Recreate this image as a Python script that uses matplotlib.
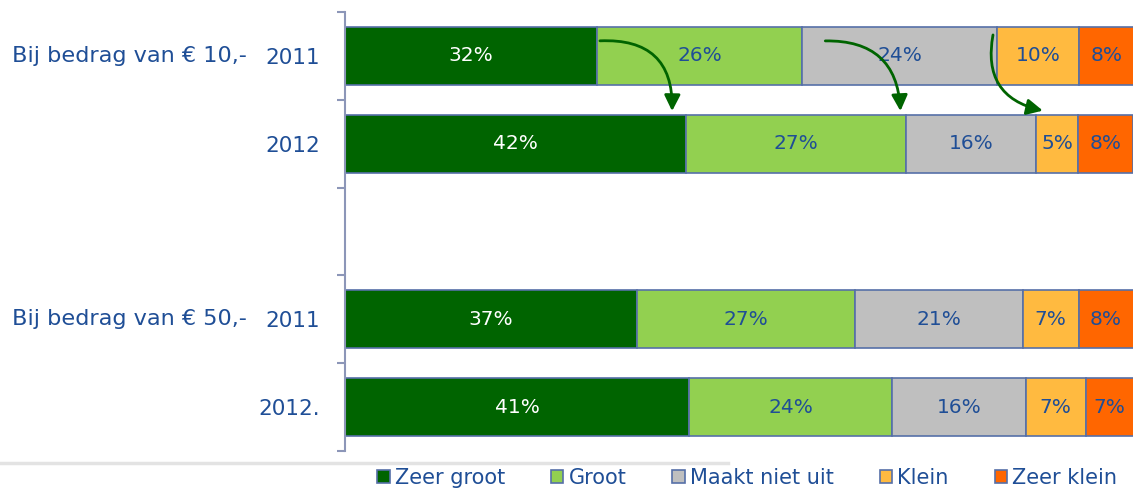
import matplotlib.pyplot as plt
from matplotlib.patches import FancyArrowPatch, Patch
from matplotlib.lines import Line2D
import numpy as np

# rows: EUR 10 (2011, 2012), EUR 50 (2011, 2012)
years = ['2011', '2012', '2011', '2012.']
groups = ['Bij bedrag van € 10,-', 'Bij bedrag van € 50,-']
rows = [0, 1, 3, 4]

categories = ['Zeer groot', 'Groot', 'Maakt niet uit', 'Klein', 'Zeer klein']
colors = ['#006400', '#92D050', '#BFBFBF', '#FFBA40', '#FF6600']

# bar widths as drawn
zeer_groot = [32.0, 43.3, 37.0, 43.7]
groot = [26.0, 27.9, 27.7, 25.7]
maakt_niet_uit = [24.8, 16.5, 21.3, 17.0]
klein = [10.4, 5.3, 7.1, 7.6]
zeer_klein = [6.9, 7.0, 7.0, 6.1]

# printed percentages
zeer_groot_lbl = [32, 42, 37, 41]
groot_lbl = [26, 27, 27, 24]
maakt_niet_uit_lbl = [24, 16, 21, 16]
klein_lbl = [10, 5, 7, 7]
zeer_klein_lbl = [8, 8, 8, 7]

series = [zeer_groot, groot, maakt_niet_uit, klein, zeer_klein]
labels = [zeer_groot_lbl, groot_lbl, maakt_niet_uit_lbl, klein_lbl, zeer_klein_lbl]

text_blue = '#1F4E96'
edge_blue = '#5670A8'
font = 'DejaVu Sans'

fig = plt.figure(figsize=(11.33, 4.9), dpi=100)
ax = fig.add_axes([345 / 1133, 1 - 451 / 490, 1 - 345 / 1133, (451 - 12) / 490])

left = np.zeros(len(rows))
for vals, lbls, col in zip(series, labels, colors):
    bars = ax.barh(rows, vals, left=left, height=0.66, color=col,
                   edgecolor=edge_blue, linewidth=1.2)
    tc = 'white' if col == '#006400' else text_blue
    ax.bar_label(bars, labels=[f'{v}%' for v in lbls], label_type='center',
                 color=tc, fontsize=14.5, family=font)
    left = left + np.array(vals)

ax.set_xlim(0, 100)
ax.set_ylim(4.5, -0.5)
ax.set_xticks([])
for s in ['top', 'right', 'bottom']:
    ax.spines[s].set_visible(False)
ax.spines['left'].set_color('#8C96B8')
ax.spines['left'].set_linewidth(1.5)

ax.set_yticks(rows, years, color=text_blue, fontsize=15.5, family=font)
ax.tick_params(axis='y', which='major', length=0, pad=18)
ax.set_yticks(np.arange(-0.5, 5.0, 1.0), minor=True)
ax.tick_params(axis='y', which='minor', length=6, width=1.5, color='#8C96B8')

for g, r in zip(groups, [0, 3]):
    ax.text(-(345 - 247) / 788 * 100, r, g, ha='right', va='center',
            color=text_blue, fontsize=16.1, family=font, clip_on=False)

# arrows from 2011 to 2012 (EUR 10)
cum0 = np.cumsum([s[0] for s in series])
cum1 = np.cumsum([s[1] for s in series])
arrows = [
    ((cum0[0], -0.17), (cum1[0] - 1.8, 0.66), -0.55),
    ((cum0[1] + 2.6, -0.17), (cum1[1] - 0.7, 0.66), -0.5),
    ((cum0[2] - 0.5, -0.27), (cum1[2] + 1.2, 0.63), 0.5),
]
for start, end, rad in arrows:
    ax.add_patch(FancyArrowPatch(start, end, connectionstyle=f'arc3,rad={rad}',
                                 arrowstyle='-|>', mutation_scale=24,
                                 color='#006400', linewidth=2.0, zorder=5))

# separator line
fig.add_artist(Line2D([0, 728 / 1133], [1 - 463 / 490] * 2, color='#E3E3E3',
                      linewidth=2.5, transform=fig.transFigure))

handles = [Patch(facecolor=c, edgecolor=edge_blue, linewidth=1.2) for c in colors]
fig.legend(handles, categories, loc='center left', ncol=5,
           bbox_to_anchor=(377 / 1133, 1 - 478 / 490), frameon=False,
           prop={'family': font, 'size': 15},
           labelcolor=text_blue, handlelength=0.6, handleheight=0.6,
           handletextpad=0.25, columnspacing=2.2, borderaxespad=0, borderpad=0)

fig.savefig('out.png', dpi=100)
